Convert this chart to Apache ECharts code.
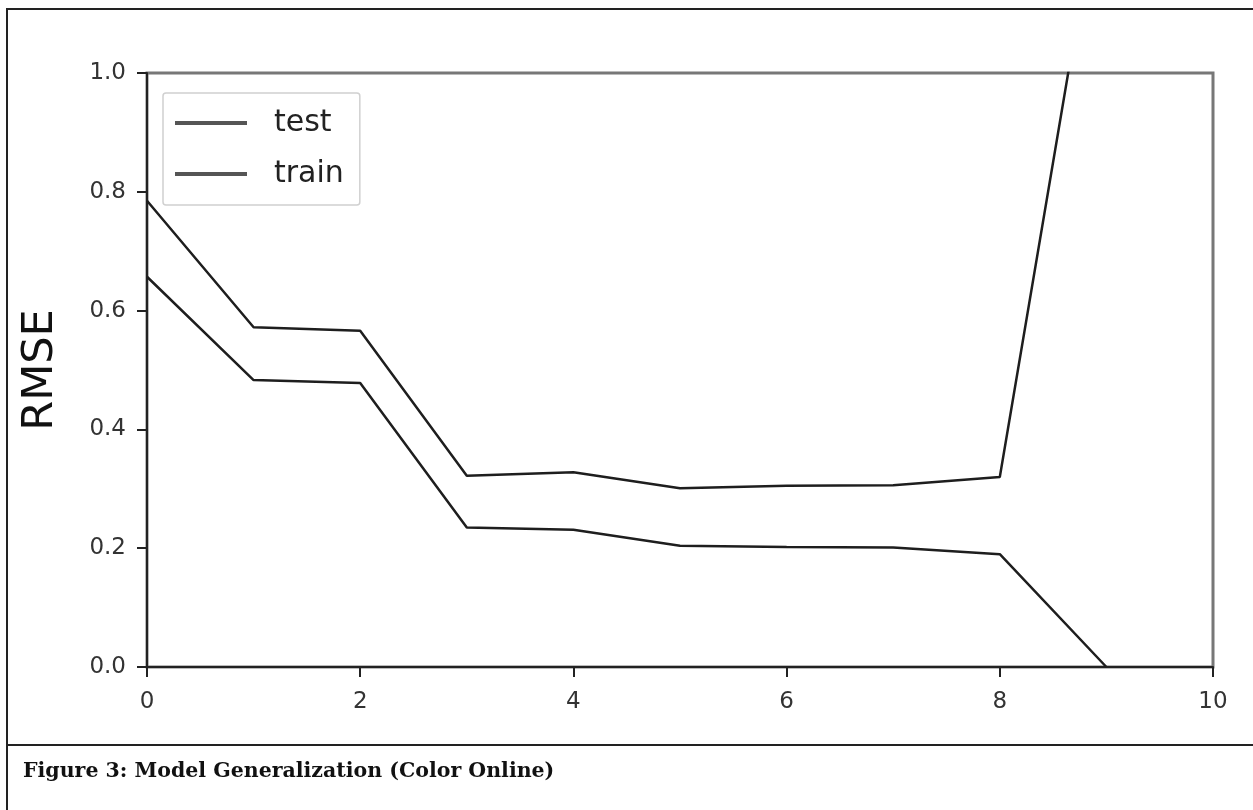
<!DOCTYPE html>
<html>
<head>
<meta charset="utf-8">
<script src="https://cdn.jsdelivr.net/npm/echarts@6/dist/echarts.min.js"></script>
<style>html,body{margin:0;padding:0;background:#fff;}#c{width:1253px;height:810px;}</style>
</head>
<body>
<div id="c"></div>
<script>
const xs = [0, 1, 2, 3, 4, 5, 6, 7, 8, 9];
const testRMSE = [0.785, 0.572, 0.566, 0.322, 0.328, 0.301, 0.305, 0.306, 0.320, 1.38];
const trainRMSE = [0.657, 0.483, 0.478, 0.235, 0.231, 0.204, 0.202, 0.201, 0.190, 0.0];
const xTicks = [0, 2, 4, 6, 8, 10];
const yTicks = [0.0, 0.2, 0.4, 0.6, 0.8, 1.0];
const seriesNames = ['test', 'train'];
const yName = 'RMSE';
const caption = 'Figure 3: Model Generalization (Color Online)';

const chart = echarts.init(document.getElementById('c'), null, {renderer: 'canvas'});
const pairs = (ys) => xs.map((x, i) => [x, ys[i]]);

chart.setOption({
  animation: false,
  backgroundColor: '#fff',
  grid: {left: 147, right: 40, top: 73, bottom: 143, show: true, borderColor: '#777', borderWidth: 3, backgroundColor: 'transparent'},
  xAxis: {
    type: 'value', min: xTicks[0], max: xTicks[xTicks.length - 1], interval: 2,
    axisLine: {show: true, onZero: false, lineStyle: {color: '#222', width: 2}},
    axisTick: {show: true, length: 10, lineStyle: {color: '#222', width: 2}},
    axisLabel: {margin: 24, fontSize: 23, color: '#333', fontFamily: 'DejaVu Sans'},
    splitLine: {show: false}
  },
  yAxis: {
    type: 'value', min: yTicks[0], max: yTicks[yTicks.length - 1], interval: 0.2,
    name: yName, nameLocation: 'middle', nameGap: 85,
    nameTextStyle: {fontSize: 43, color: '#111', fontFamily: 'DejaVu Sans'},
    axisLine: {show: true, onZero: false, lineStyle: {color: '#222', width: 2}},
    axisTick: {show: true, length: 10, lineStyle: {color: '#222', width: 2}},
    axisLabel: {margin: 21, fontSize: 23, color: '#333', fontFamily: 'DejaVu Sans', formatter: v => v.toFixed(1)},
    splitLine: {show: false}
  },
  legend: {
    orient: 'vertical', left: 163, top: 93,
    data: seriesNames,
    icon: 'rect',
    itemWidth: 72, itemHeight: 4, itemGap: 21,
    padding: [15, 16, 16, 12],
    borderColor: '#d0d0d0', borderWidth: 1.5, borderRadius: 3,
    backgroundColor: '#fff',
    itemStyle: {color: '#555'},
    textStyle: {fontSize: 30, color: '#222', fontFamily: 'DejaVu Sans', lineHeight: 30, padding: [0, 0, 0, 22]}
  },
  series: [
    {name: seriesNames[0], type: 'line', data: pairs(testRMSE), symbol: 'none', clip: true,
     lineStyle: {color: '#1e1e1e', width: 2.5}, itemStyle: {color: '#1e1e1e'}},
    {name: seriesNames[1], type: 'line', data: pairs(trainRMSE), symbol: 'none', clip: true,
     lineStyle: {color: '#1e1e1e', width: 2.5}, itemStyle: {color: '#1e1e1e'}}
  ],
  graphic: [
    {type: 'line', shape: {x1: 7, y1: 8, x2: 7, y2: 810}, style: {stroke: '#222', lineWidth: 2}},
    {type: 'line', shape: {x1: 7, y1: 9, x2: 1253, y2: 9}, style: {stroke: '#222', lineWidth: 2}},
    {type: 'line', shape: {x1: 7, y1: 745, x2: 1253, y2: 745}, style: {stroke: '#222', lineWidth: 2}},
    {type: 'text', left: 23, top: 761, style: {text: caption, font: 'bold 20.5px "DejaVu Serif"', fill: '#111'}}
  ]
});
</script>
</body>
</html>
